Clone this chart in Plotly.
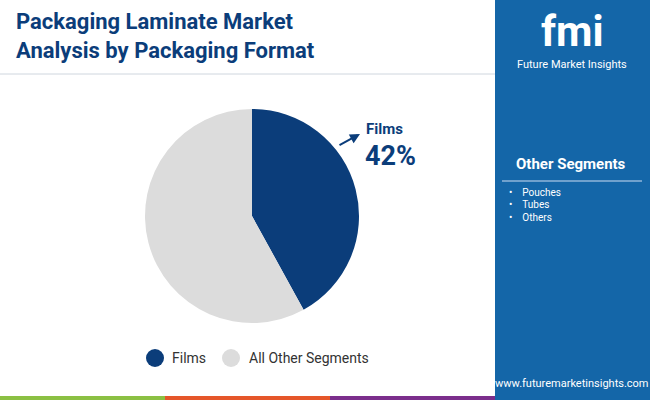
import plotly.graph_objects as go

labels = ["Films", "All Other Segments"]
values = [42, 58]
colors = ["#0b3d7a", "#dcdcdc"]
others = ["Pouches", "Tubes", "Others"]

fig = go.Figure(go.Pie(labels=labels, values=values, marker=dict(colors=colors),
    sort=False, direction="clockwise", rotation=0, textinfo="none", hoverinfo="skip",
    showlegend=False, domain=dict(x=[145/650, 359/650], y=[0.1925, 0.7275])))

shapes = [
    dict(type="rect", xref="paper", yref="paper", x0=495/650, x1=1, y0=0, y1=1, fillcolor="#1466a8", line_width=0, layer="below"),
    dict(type="line", xref="paper", yref="paper", x0=0, x1=495/650, y0=1-74/400, y1=1-74/400, line=dict(color="#cfd6de", width=1)),
    dict(type="line", xref="paper", yref="paper", x0=502/650, x1=642/650, y0=1-181/400, y1=1-181/400, line=dict(color="#8fb6da", width=1.5)),
    dict(type="rect", xref="paper", yref="paper", x0=0, x1=165/650, y0=0, y1=4/400, fillcolor="#8bc043", line_width=0),
    dict(type="rect", xref="paper", yref="paper", x0=165/650, x1=330/650, y0=0, y1=4/400, fillcolor="#e5562a", line_width=0),
    dict(type="rect", xref="paper", yref="paper", x0=330/650, x1=495/650, y0=0, y1=4/400, fillcolor="#7b2e8c", line_width=0),
    dict(type="circle", xref="paper", yref="paper", x0=146/650, x1=164/650, y0=1-367/400, y1=1-349/400, fillcolor=colors[0], line_width=0),
    dict(type="circle", xref="paper", yref="paper", x0=222/650, x1=240/650, y0=1-367/400, y1=1-349/400, fillcolor=colors[1], line_width=0),
]

def P(x, y, xa="left"):
    return dict(xref="paper", yref="paper", x=x/650, y=1-y/400, xanchor=xa, yanchor="middle", showarrow=False)

ann = [
    dict(**P(14, 36), text="<b>Packaging Laminate Market<br>Analysis by Packaging Format</b>", align="left", font=dict(family="Roboto", size=22, color="#0b3d7a")),
    dict(**P(170, 358), text=labels[0], font=dict(family="Roboto", size=14, color="#333")),
    dict(**P(247, 358), text=labels[1], font=dict(family="Roboto", size=14, color="#333")),
    dict(**P(364, 129), text=f"<b>{labels[0]}</b>", font=dict(family="Roboto", size=15, color="#0b3d7a")),
    dict(**P(363, 156), text=f"<b>{values[0]}%</b>", font=dict(family="Roboto", size=27, color="#0b3d7a")),
    dict(**P(572, 31, "center"), text="<b>fmi</b>", font=dict(family="Roboto", size=42, color="white")),
    dict(**P(572, 64, "center"), text="Future Market Insights", font=dict(family="Roboto", size=11, color="white")),
    dict(**P(571, 164, "center"), text="<b>Other Segments</b>", font=dict(family="Roboto", size=15, color="white")),
    dict(**P(572, 383, "center"), text="www.futuremarketinsights.com", font=dict(family="Roboto", size=11, color="white")),
    dict(xref="paper", yref="paper", x=360/650, y=1-134/400, ax=-22, ay=12, text="", showarrow=True,
         arrowhead=2, arrowsize=1, arrowwidth=2, arrowcolor="#0b3d7a"),
]
for i, o in enumerate(others):
    ann.append(dict(**P(507, 192 + i*12.5), text="•&nbsp;&nbsp;&nbsp;&nbsp;" + o, font=dict(family="Roboto", size=10, color="white")))

fig.update_layout(width=650, height=400, margin=dict(l=0, r=0, t=0, b=0), paper_bgcolor="white",
                  shapes=shapes, annotations=ann)
fig.write_html("out.html", config={"displayModeBar": False}, post_script="document.body.style.margin='0';")
